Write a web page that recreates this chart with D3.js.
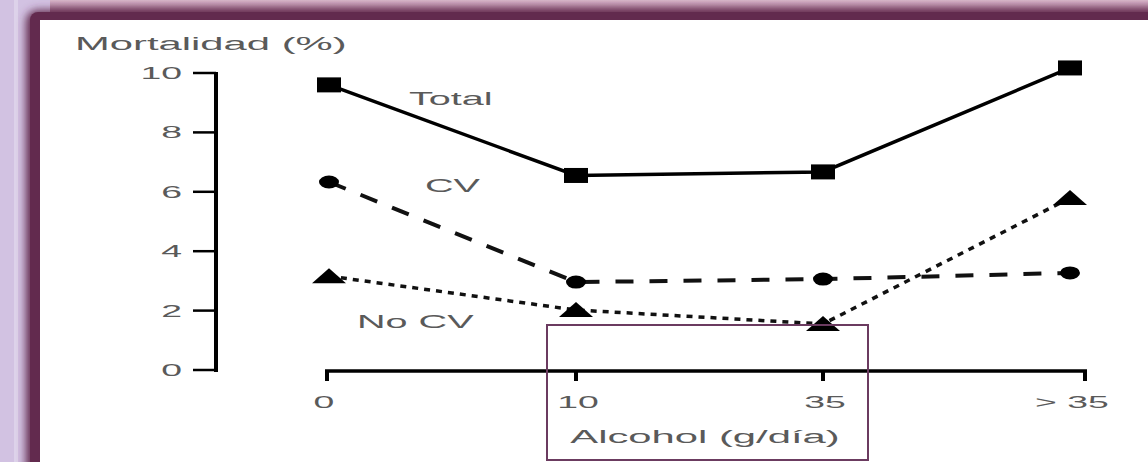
<!DOCTYPE html>
<html>
<head>
<meta charset="utf-8">
<script src="https://cdn.jsdelivr.net/npm/d3@7"></script>
<style>
  html, body { margin: 0; padding: 0; background: #d2c2e2; }
  svg { display: block; }
</style>
</head>
<body>
<svg></svg>
<script>
// chart data
var categories = ["0", "10", "35", "> 35"];
var totalValues = [9.6, 6.55, 6.67, 10.17];
var cvValues = [6.33, 2.96, 3.06, 3.27];
var noCvValues = [3.16, 2.02, 1.55, 5.79];
var yTicks = [0, 2, 4, 6, 8, 10];

var width = 1148;
var height = 462;
var stretch = 2.2; // the scan is squashed sideways, text looks wide
var textColor = "#5a5a5a";
var font = '"Liberation Sans", Arial, Helvetica, sans-serif';

var svg = d3.select("svg")
            .attr("width", width)
            .attr("height", height);

// --- frame (lavender page, dark purple slide border, white inside)
var defs = svg.append("defs");
defs.append("filter")
    .attr("id", "soft")
    .attr("x", "-10%").attr("y", "-10%")
    .attr("width", "120%").attr("height", "120%")
    .append("feGaussianBlur")
    .attr("stdDeviation", 4);

var topGrad = defs.append("linearGradient")
    .attr("id", "topGrad")
    .attr("x1", 0).attr("y1", 0).attr("x2", 0).attr("y2", 1);
topGrad.append("stop").attr("offset", "0%").attr("stop-color", "#d8b6ca");
topGrad.append("stop").attr("offset", "100%").attr("stop-color", "#8c5678");

svg.append("rect")
   .attr("x", 0).attr("y", 0)
   .attr("width", width).attr("height", height)
   .attr("fill", "#d2c2e2");

svg.append("rect")
   .attr("x", 14).attr("y", 0)
   .attr("width", 4).attr("height", height)
   .attr("fill", "#ddd2ea");

svg.append("rect")
   .attr("x", 50).attr("y", 0)
   .attr("width", width).attr("height", 13)
   .attr("fill", "url(#topGrad)");

svg.append("rect")
   .attr("x", 26).attr("y", 10)
   .attr("width", width + 40).attr("height", height + 40)
   .attr("rx", 12)
   .attr("fill", "#622a4e")
   .attr("filter", "url(#soft)");

svg.append("rect")
   .attr("x", 30).attr("y", 12)
   .attr("width", width + 40).attr("height", height + 40)
   .attr("rx", 8)
   .attr("fill", "#622a4e");

svg.append("rect")
   .attr("x", 40).attr("y", 20)
   .attr("width", width).attr("height", height)
   .attr("fill", "#ffffff");

// --- scales
var xScale = d3.scalePoint()
               .domain(categories)
               .range([329, 1070]);

var yScale = d3.scaleLinear()
               .domain([0, 10])
               .range([370, 73]);

function label(x, y, txt, anchor, size) {
  svg.append("text")
     .attr("transform", `translate(${x},${y}) scale(${stretch},1)`)
     .attr("text-anchor", anchor || "start")
     .style("font-family", font)
     .style("font-size", (size || 18) + "px")
     .style("fill", textColor)
     .text(txt);
}

// --- y axis
var yAxisX = 216;
svg.append("line")
   .attr("x1", yAxisX).attr("x2", yAxisX)
   .attr("y1", yScale(10) - 1).attr("y2", yScale(0) + 2)
   .attr("stroke", "#000").attr("stroke-width", 4);

svg.selectAll(".ytick")
   .data(yTicks)
   .enter()
   .append("line")
   .attr("class", "ytick")
   .attr("x1", 193).attr("x2", yAxisX)
   .attr("y1", d => yScale(d)).attr("y2", d => yScale(d))
   .attr("stroke", "#000").attr("stroke-width", 2.5);

yTicks.forEach(function(t) {
  label(182, yScale(t) + 6, t, "end", 17);
});

label(75, 50, "Mortalidad (%)", "start", 19);

// --- x axis
var xAxisY = 371;
svg.append("line")
   .attr("x1", 325).attr("x2", 1087)
   .attr("y1", xAxisY).attr("y2", xAxisY)
   .attr("stroke", "#000").attr("stroke-width", 3.5);

svg.selectAll(".xtick")
   .data(categories)
   .enter()
   .append("line")
   .attr("class", "xtick")
   .attr("x1", (d, i) => i === 0 ? 327 : (i === categories.length - 1 ? 1085 : xScale(d)))
   .attr("x2", (d, i) => i === 0 ? 327 : (i === categories.length - 1 ? 1085 : xScale(d)))
   .attr("y1", xAxisY).attr("y2", xAxisY + 10)
   .attr("stroke", "#000").attr("stroke-width", 4);

categories.forEach(function(c, i) {
  label(xScale(c) + (i === 0 ? -5 : 2), 408, c, "middle", 17);
});

label(705, 443, "Alcohol (g/día)", "middle", 19);

// --- series
var line = d3.line()
             .x((d, i) => xScale(categories[i]))
             .y(d => yScale(d));

svg.append("path")
   .datum(totalValues)
   .attr("d", line)
   .attr("fill", "none")
   .attr("stroke", "#000")
   .attr("stroke-width", 3.5);

svg.append("path")
   .datum(cvValues)
   .attr("d", line)
   .attr("fill", "none")
   .attr("stroke", "#111")
   .attr("stroke-width", 4)
   .attr("stroke-dasharray", "18,16");

svg.append("path")
   .datum(noCvValues)
   .attr("d", line)
   .attr("fill", "none")
   .attr("stroke", "#111")
   .attr("stroke-width", 3.5)
   .attr("stroke-dasharray", "6,6");

// markers: squares, dots, triangles
svg.selectAll(".sq")
   .data(totalValues)
   .enter()
   .append("rect")
   .attr("class", "sq")
   .attr("x", (d, i) => xScale(categories[i]) - 12)
   .attr("y", d => yScale(d) - 7.5)
   .attr("width", 24)
   .attr("height", 15)
   .attr("fill", "#000");

svg.selectAll(".dot")
   .data(cvValues)
   .enter()
   .append("ellipse")
   .attr("class", "dot")
   .attr("cx", (d, i) => xScale(categories[i]))
   .attr("cy", d => yScale(d))
   .attr("rx", 10)
   .attr("ry", 6.5)
   .attr("fill", "#000");

svg.selectAll(".tri")
   .data(noCvValues)
   .enter()
   .append("path")
   .attr("class", "tri")
   .attr("d", function(d, i) {
     var cx = xScale(categories[i]), cy = yScale(d);
     return `M${cx - 17},${cy + 7} L${cx},${cy - 8} L${cx + 17},${cy + 7} Z`;
   })
   .attr("fill", "#000");

// series names
label(xScale("0") + 80, yScale(8.93), "Total", "start", 18);
label(xScale("0") + 96, yScale(6.0), "CV", "start", 18);
label(xScale("0") + 28, yScale(1.4), "No CV", "start", 18);

// purple highlight box around the axis title
svg.append("rect")
   .attr("x", 547).attr("y", 325)
   .attr("width", 321).attr("height", 135)
   .attr("fill", "none")
   .attr("stroke", "#6b3b60")
   .attr("stroke-width", 2);
</script>
</body>
</html>
